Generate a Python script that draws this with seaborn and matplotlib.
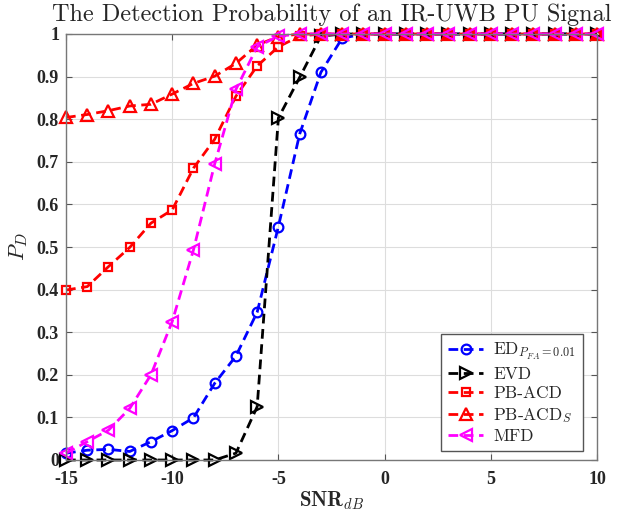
import numpy as np
import pandas as pd
import matplotlib
matplotlib.use("Agg")
import matplotlib.pyplot as plt
import seaborn as sns

snr = list(range(-15, 11))

ed = [0.016, 0.023, 0.025, 0.020, 0.043, 0.069, 0.099, 0.180, 0.244, 0.347, 0.548, 0.765, 0.910, 0.990,
      1, 1, 1, 1, 1, 1, 1, 1, 1, 1, 1, 1]
evd = [0, 0, 0, 0, 0, 0, 0, 0, 0.016, 0.125, 0.803, 0.898, 0.995, 1,
       1, 1, 1, 1, 1, 1, 1, 1, 1, 1, 1, 1]
pbacd = [0.399, 0.407, 0.454, 0.499, 0.556, 0.587, 0.685, 0.753, 0.854, 0.925, 0.970, 0.995, 1, 1,
         1, 1, 1, 1, 1, 1, 1, 1, 1, 1, 1, 1]
pbacds = [0.804, 0.811, 0.820, 0.831, 0.835, 0.859, 0.884, 0.901, 0.931, 0.974, 0.994, 1, 1, 1,
          1, 1, 1, 1, 1, 1, 1, 1, 1, 1, 1, 1]
mfd = [0.016, 0.043, 0.070, 0.121, 0.200, 0.325, 0.493, 0.695, 0.870, 0.970, 0.995, 1, 1, 1,
       1, 1, 1, 1, 1, 1, 1, 1, 1, 1, 1, 1]

labels = [r"ED$_{P_{FA}=0.01}$", "EVD", "PB-ACD", r"PB-ACD$_S$", "MFD"]
series = [ed, evd, pbacd, pbacds, mfd]
colors = ["#0000ff", "#000000", "#ff0000", "#ff0000", "#ff00ff"]
markers = ["o", ">", "s", "^", "<"]
msizes = [7, 8, 6, 8, 8]

xticks = [-15, -10, -5, 0, 5, 10]
yticks = [0, 0.1, 0.2, 0.3, 0.4, 0.5, 0.6, 0.7, 0.8, 0.9, 1]
yticklabels = ["0", "0.1", "0.2", "0.3", "0.4", "0.5", "0.6", "0.7", "0.8", "0.9", "1"]

sns.set_theme(style="white")
plt.rcParams["mathtext.fontset"] = "cm"
plt.rcParams["font.family"] = ["cmr10", "DejaVu Serif"]
plt.rcParams["axes.unicode_minus"] = False

fig = plt.figure(figsize=(6.21, 5.16), dpi=100)
ax = fig.add_axes([66 / 621, 1 - 460 / 516, (597 - 66) / 621, (460 - 34) / 516])

for y, lab, c, m, ms in zip(series, labels, colors, markers, msizes):
    df = pd.DataFrame({"snr": snr, "pd": y})
    sns.lineplot(data=df, x="snr", y="pd", ax=ax, color=c, marker=m,
                 markersize=ms, markerfacecolor="none", markeredgecolor=c,
                 markeredgewidth=1.6, linewidth=2.0, linestyle=(0, (3.5, 2.0)),
                 clip_on=False, label=lab, legend=False, errorbar=None)

ax.set_xlim(-15, 10)
ax.set_ylim(0, 1)
ax.set_xticks(xticks)
ax.set_xticklabels([str(t) for t in xticks], fontfamily="Liberation Serif",
                   fontweight="bold", fontsize=13)
ax.set_yticks(yticks)
ax.set_yticklabels(yticklabels, fontfamily="Liberation Serif",
                   fontweight="bold", fontsize=13)
ax.tick_params(direction="in", length=4, width=0.8, color="#555555",
               top=True, right=True, bottom=True, left=True)
ax.tick_params(axis="x", pad=8)
ax.tick_params(axis="y", pad=5)
ax.grid(True, color="#dddddd", linewidth=0.8)
for s in ax.spines.values():
    s.set_color("#777777")
    s.set_linewidth(1.0)

ax.set_xlabel(r"SNR$_{dB}$", fontfamily=["cmb10", "DejaVu Serif"],
              fontsize=15, labelpad=1)
ax.set_ylabel(r"$P_D$", fontsize=16, labelpad=5)
ax.set_title("The Detection Probability of an IR-UWB PU Signal", fontsize=17.5,
             pad=9)

handles = ax.get_lines()[:5]
leg = ax.legend(handles=handles, labels=labels, loc="lower right",
                bbox_to_anchor=(0.99, 0.0), fontsize=12.5, frameon=True,
                fancybox=False, edgecolor="#555555", framealpha=1,
                handlelength=2.0, labelspacing=0.25, borderpad=0.4,
                handletextpad=0.6)
leg.get_frame().set_linewidth(1.0)

fig.savefig("out.png", dpi=100)
